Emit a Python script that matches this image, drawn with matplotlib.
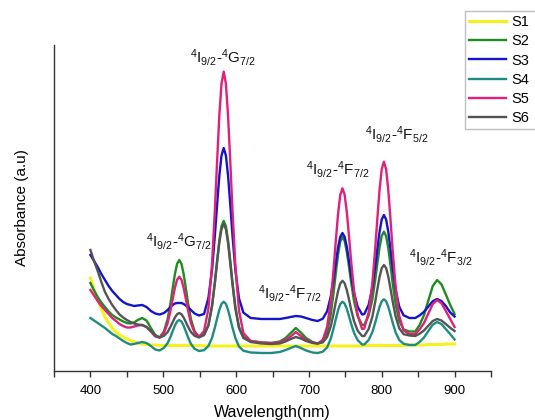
import matplotlib
matplotlib.use("Agg")
import matplotlib.pyplot as plt
from matplotlib.ticker import MultipleLocator

plt.rcParams['font.family'] = ['Liberation Sans', 'DejaVu Sans']
plt.rcParams['mathtext.fontset'] = 'custom'
plt.rcParams['mathtext.rm'] = 'Liberation Sans'
plt.rcParams['mathtext.it'] = 'Liberation Sans:italic'
plt.rcParams['mathtext.bf'] = 'Liberation Sans:bold'

wavelength = [400, 405, 410, 415, 420, 425, 430, 435, 440, 445, 450, 455, 460, 465, 471, 477, 483, 489,
              495, 501, 506, 510, 513, 516, 519, 522, 525, 528, 531, 534, 538, 543, 549,
              556, 562, 567, 571, 574, 577, 580, 583, 586, 589, 592, 595, 599, 604, 610,
              620, 635, 648, 660, 668, 675, 682, 689, 696, 705, 712,
              719, 725, 730, 734, 737, 740, 743, 746, 749, 752, 755, 758, 762, 767, 773,
              776, 782, 787, 791, 794, 797, 800, 803, 806, 809, 812, 815, 819, 824, 830,
              838, 846,
              852, 858, 864, 870, 876, 882, 888, 894, 900]

s1 = [93, 81.5, 71, 62, 54, 48, 43, 39, 36, 34, 32, 30.5, 29, 28, 27, 26.5, 26, 26,
      25.5, 25.5, 25.5, 25.5, 25.5, 25.5, 25.5, 25.5, 25.5, 25.5, 25.5, 25.5, 25.5, 25.5, 25.5,
      25, 25, 25, 25, 25, 25, 25, 25, 25, 25, 25, 25, 25, 25, 25,
      25, 25, 25, 25, 25, 25, 25, 25, 25, 25, 25,
      25, 25, 25, 25, 25, 25, 25, 25, 25, 25, 25, 25, 25, 25, 25,
      25.5, 25.5, 25.5, 25.5, 25.5, 25.5, 25.5, 25.5, 25.5, 25.5, 25.5, 25.5, 25.5, 25.5, 25.5,
      26, 26,
      26, 26, 26.5, 26.5, 26.5, 26.5, 27, 27, 27]
s2 = [88, 80.5, 74, 68.5, 64, 59.5, 56, 53.5, 51.5, 49.5, 48, 47.5, 48.5, 51, 53, 50.5, 43, 36,
      33.5, 39.8, 51.9, 68.1, 82.8, 96.9, 107.2, 111, 107.2, 96.9, 82.8, 68.1, 51.9, 39.8, 34.4,
      36, 45.9, 65.5, 90, 111, 130.7, 144.9, 150, 144.8, 130.4, 110.4, 89, 64.1, 44.1, 34.1,
      30, 28.5, 28, 29.5, 33, 38, 43, 38.5, 33, 29, 27.5,
      29.8, 38.8, 56.7, 79.1, 98.4, 116.3, 129.3, 134, 130.1, 119.3, 104.4, 88.3, 69.7, 54.8, 46,
      46, 55.4, 71.2, 90.9, 107.9, 123.7, 135.2, 139.3, 134.9, 122.8, 105.9, 87.8, 66.9, 50, 41.6,
      39.5, 39.5,
      46, 55.9, 70.6, 84.9, 91, 86.6, 76.5, 66, 57]
s3 = [116, 110, 104, 97, 91, 85, 80, 76, 72, 69, 67, 66, 65, 65.5, 66, 64, 60, 57.5,
      56.5, 58, 61, 64, 66, 67.5, 68, 68, 68, 67, 65.5, 64, 61, 57.5, 55.5,
      57, 73, 101.3, 136.6, 166.9, 195.2, 215.6, 223, 215.6, 195.1, 166.7, 136.3, 101, 72.6, 58.4,
      53, 52, 52, 52, 53, 54, 55, 54.5, 53, 51, 50,
      52.3, 59.7, 74.5, 92.9, 108.7, 123.5, 134.1, 138, 134.3, 124.3, 110.4, 95.4, 78.1, 64.1, 56.5,
      57, 66.1, 83.1, 104.2, 122.4, 139.3, 151.6, 156, 151.5, 139, 121.7, 103.2, 81.6, 64.3, 55.7,
      53, 53,
      55.6, 59.2, 64.5, 69.8, 72, 69.9, 64.9, 58.5, 54.5]
s4 = [53, 50.5, 48, 45.5, 43, 40, 37, 35, 32.5, 30, 28, 26.5, 27, 28, 29, 28, 25, 21.5,
      20.5, 23.2, 27.9, 34.2, 40, 45.5, 49.5, 51, 49.5, 45.3, 39.6, 33.7, 27.1, 22.2, 20,
      20.8, 25, 33.3, 43.8, 52.7, 61.1, 67.1, 69.3, 67.1, 61, 52.5, 43.5, 33, 24.5, 20.3,
      18.5, 18, 18, 19, 21, 23, 25, 23, 20.5, 18.5, 18,
      19.3, 23.6, 32.3, 43, 52.2, 60.8, 67, 69.3, 67.4, 62.2, 54.9, 47.1, 38, 30.8, 26.5,
      26.5, 31, 38.7, 48.3, 56.5, 64.2, 69.7, 71.7, 69.7, 64.2, 56.5, 48.3, 38.7, 31, 27.2,
      26, 26,
      29.1, 33.5, 40, 46.3, 49, 46.9, 41.9, 36.9, 31.5]
s5 = [81, 75.5, 70, 65, 61, 57, 53, 50, 47, 45, 43.5, 43.5, 44.5, 45.5, 46, 44, 39.5, 34.5,
      33.5, 38.3, 47.8, 60.6, 72.1, 83.2, 91.3, 94.3, 91.3, 83.2, 72.1, 60.6, 47.8, 38.3, 34.1,
      39.9, 62.3, 107, 162.7, 210.6, 255.4, 287.6, 299.3, 287.5, 255, 210, 161.7, 105.6, 60.5, 38,
      30, 28.5, 28, 28.5, 31, 34.5, 39, 35, 31, 28.5, 27.5,
      31, 44.1, 70.3, 102.8, 130.9, 157, 175.8, 182.7, 176.4, 159.2, 135.2, 109.5, 79.7, 55.7, 42,
      42.5, 58.6, 87.1, 122.4, 152.9, 181.4, 201.9, 209.3, 201.7, 180.7, 151.6, 120.4, 84.2, 55.1, 40.5,
      37, 37,
      41.6, 48, 57.6, 67, 71, 67.7, 60, 52, 44]
s6 = [121, 110, 100, 89, 79, 72, 66, 61, 56.5, 53.5, 51, 49, 47.5, 46.5, 46, 44, 40, 35.5,
      33.5, 35.2, 39, 44.3, 49, 53.5, 56.8, 58, 56.8, 53.5, 49, 44.3, 39, 35.2, 33.5,
      36, 45.5, 64.7, 88.5, 109, 128.2, 142, 147, 141.9, 127.7, 108, 87, 62.5, 42.9, 33,
      29, 27.5, 27, 27.5, 29.5, 32, 34, 32.5, 30, 28, 27.5,
      28.6, 34, 44.6, 57.8, 69.2, 79.9, 87.5, 90.3, 87.8, 81, 71.6, 61.4, 49.7, 40.2, 35,
      35, 41.9, 54, 69.1, 82, 94.1, 102.8, 106, 102.9, 94.3, 82.4, 69.6, 54.7, 42.8, 36.8,
      35.5, 35,
      37.3, 40.5, 45.3, 50, 52, 50.5, 46.9, 43.2, 40]

series_names = ['S1', 'S2', 'S3', 'S4', 'S5', 'S6']
series_values = [s1, s2, s3, s4, s5, s6]
series_colors = ['#f5f01e', '#1e8c1e', '#1414c8', '#1f8c80', '#e0207a', '#555555']

annot_texts = [r'$^4$I$_{9/2}$-$^4$G$_{7/2}$',
               r'$^4$I$_{9/2}$-$^4$G$_{7/2}$',
               r'$^4$I$_{9/2}$-$^4$F$_{7/2}$',
               r'$^4$I$_{9/2}$-$^4$F$_{7/2}$',
               r'$^4$I$_{9/2}$-$^4$F$_{5/2}$',
               r'$^4$I$_{9/2}$-$^4$F$_{3/2}$']
annot_x = [582, 521, 673, 739, 821, 881]
annot_y = [314, 130, 77, 201, 237, 113]

fig = plt.figure(figsize=(5.35, 4.2), dpi=100)
ax = fig.add_axes([54/535, 49/420, (491-54)/535, (371-45)/420])

for name, vals, col in zip(series_names, series_values, series_colors):
    lw = 2.2 if name == 'S1' else 1.7
    ax.plot(wavelength, vals, color=col, lw=lw, label=name, solid_joinstyle='round')

for t, x, y in zip(annot_texts, annot_x, annot_y):
    ax.text(x, y, t, ha='center', va='center', fontsize=11, color='#111111')

ax.set_xlim(350, 950)
ax.set_ylim(0, 326)
ax.spines['top'].set_visible(False)
ax.spines['right'].set_visible(False)
for sp in ['left', 'bottom']:
    ax.spines[sp].set_color('#333333')
    ax.spines[sp].set_linewidth(1.0)
ax.set_yticks([])
ax.xaxis.set_major_locator(MultipleLocator(100))
ax.xaxis.set_minor_locator(MultipleLocator(50))
ax.tick_params(axis='x', which='major', direction='out', length=4, width=1,
               color='#333333', labelsize=9.5, pad=6)
ax.tick_params(axis='x', which='minor', direction='out', length=4, width=1,
               color='#333333')
ax.set_xticks([400, 500, 600, 700, 800, 900])
ax.set_xlabel('Wavelength(nm)', fontsize=11.5, labelpad=6)
ax.set_ylabel('Absorbance (a.u)', fontsize=11, labelpad=18)

leg = fig.legend(loc='upper left', bbox_to_anchor=(465/535, 0, 0.2, 1 - 11/420),
                 mode='expand', fontsize=10.5, frameon=True, fancybox=False,
                 borderaxespad=0, handlelength=2.5, handletextpad=0.35,
                 labelspacing=0.35, borderpad=0.3)
leg.get_frame().set_edgecolor('#b0b0b0')
leg.get_frame().set_linewidth(1.0)

fig.savefig('out.png', dpi=100)
